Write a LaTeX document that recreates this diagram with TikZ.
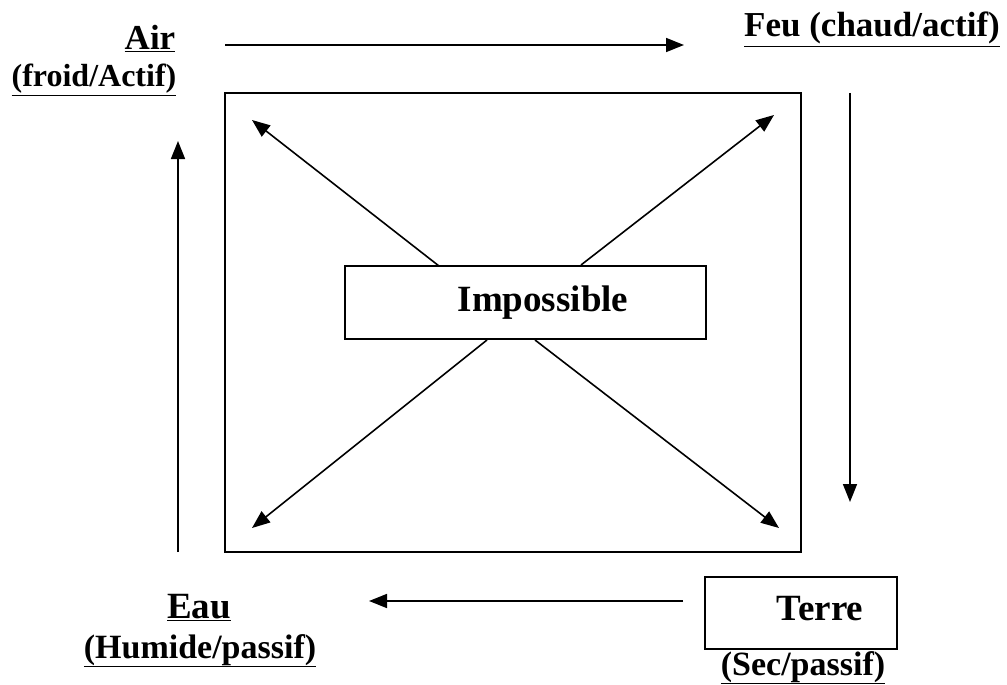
\documentclass[tikz,border=0pt]{standalone}
\usepackage{fontspec}
\setmainfont{Liberation Serif}
\usetikzlibrary{arrows.meta}
\tikzset{
  conn/.style={line width=1.6pt, -{Triangle[length=18pt,width=14pt]}},
  frame/.style={draw, line width=2pt},
  lbl/.style={inner sep=0pt, anchor=base},
}
\newcommand{\fsz}[1]{\fontsize{#1}{#1}\bfseries\selectfont}
\begin{document}
\begin{tikzpicture}[x=1pt,y=-1pt]
\useasboundingbox (0,0) rectangle (1007,685);
% boxes
\node[frame, minimum width=576pt, minimum height=459pt, inner sep=0pt] (big) at (513,322.5) {};
\node[frame, minimum width=361pt, minimum height=73pt, inner sep=0pt] (imp) at (525.5,302.5) {};
\node[lbl, font=\fsz{37}] (imptxt) at (543,311) {Impossible};
\node[frame, minimum width=192pt, minimum height=72pt, inner sep=0pt] (terre) at (801,613) {};
\node[lbl, font=\fsz{37}] (terretxt) at (820,620) {Terre};
\node[lbl, font=\fsz{34}] (sec) at (803,675) {\underline{(Sec/passif)}};
% labels
\node[lbl, font=\fsz{35}] (air) at (150,50) {\underline{Air}};
\node[lbl, font=\fsz{32}] (froid) at (94,87) {\underline{(froid/Actif)}};
\node[lbl, font=\fsz{35}] (feu) at (872,37) {\underline{Feu (chaud/actif)}};
\node[lbl, font=\fsz{37}] (eau) at (199,618) {\underline{Eau}};
\node[lbl, font=\fsz{34}] (humide) at (200,658) {\underline{(Humide/passif)}};
% connector ends
\coordinate (t1) at (225,45); \coordinate (t2) at (684,45);
\coordinate (r1) at (850,93); \coordinate (r2) at (850,502);
\coordinate (b1) at (683,601); \coordinate (b2) at (369,601);
\coordinate (l1) at (178,552); \coordinate (l2) at (178,141);
\coordinate (d1s) at (439,266); \coordinate (d1e) at (252,120);
\coordinate (d2s) at (581,265); \coordinate (d2e) at (774,115);
\coordinate (d3s) at (487,340); \coordinate (d3e) at (252,528);
\coordinate (d4s) at (535,340); \coordinate (d4e) at (779,528);
\draw[conn] (t1) -- (t2);
\draw[conn] (r1) -- (r2);
\draw[conn] (b1) -- (b2);
\draw[conn] (l1) -- (l2);
\draw[conn] (d1s) -- (d1e);
\draw[conn] (d2s) -- (d2e);
\draw[conn] (d3s) -- (d3e);
\draw[conn] (d4s) -- (d4e);
\end{tikzpicture}
\end{document}
